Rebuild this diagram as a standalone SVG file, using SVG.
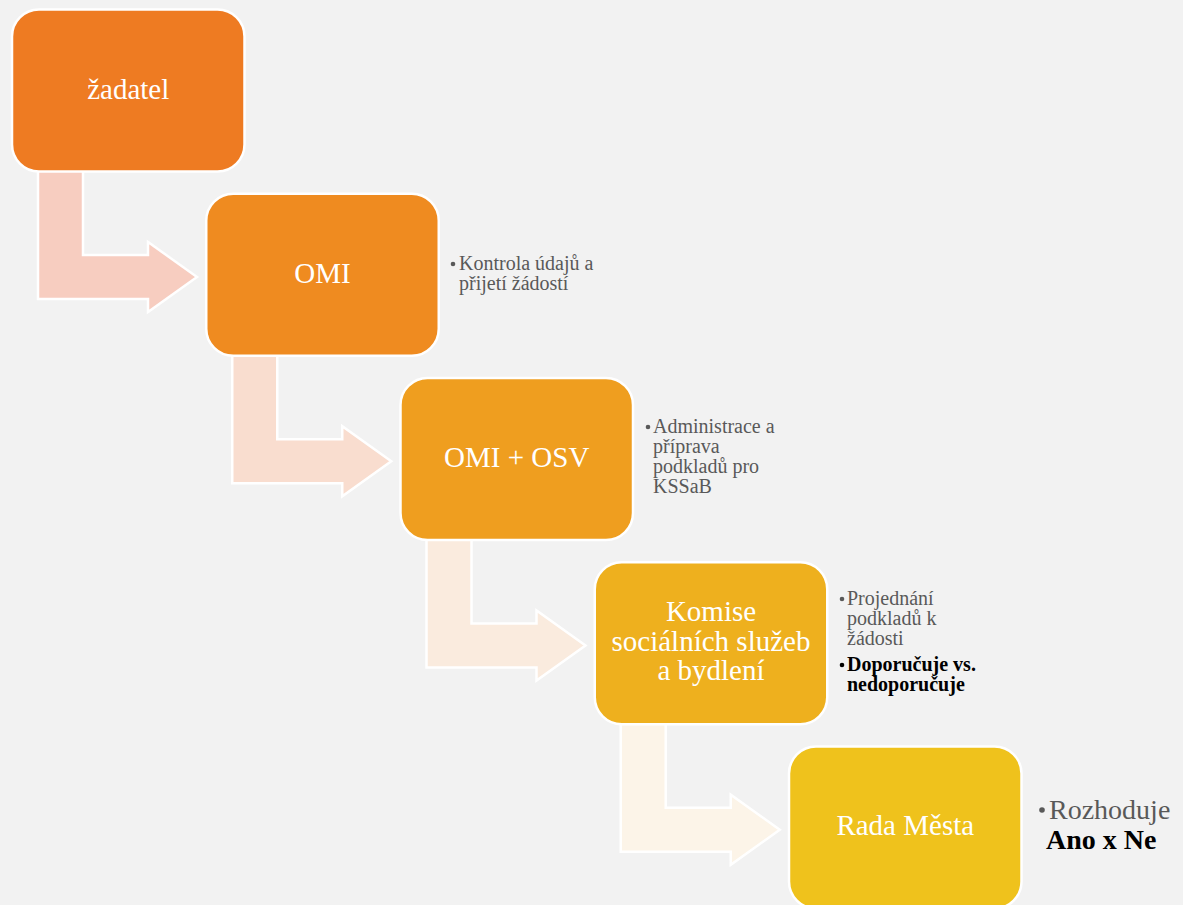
<svg xmlns="http://www.w3.org/2000/svg" width="1183" height="905" viewBox="0 0 1183 905">
<style>
.bg{fill:#F2F2F2}
.box{stroke:#FFFFFF;stroke-width:2.5}
.arr{stroke:#FFFFFF;stroke-width:2.5;stroke-linejoin:miter}
.lbl{font-family:"Liberation Serif","DejaVu Serif",serif;font-size:29px;fill:#FFFFFF;text-anchor:middle}
.side{font-family:"Liberation Serif","DejaVu Serif",serif;font-size:20px;fill:#595959}
.sideb{font-family:"Liberation Serif","DejaVu Serif",serif;font-size:20px;fill:#000000;font-weight:bold}
.big{font-family:"Liberation Serif","DejaVu Serif",serif;font-size:28px;fill:#595959}
.bigb{font-family:"Liberation Serif","DejaVu Serif",serif;font-size:28px;fill:#000000;font-weight:bold}
.dot{fill:#595959}
.dotb{fill:#000000}
</style>
<defs>
<path id="bent" d="M 38 170 L 83 170 L 83 255 L 148 255 L 148 242 L 197 277 L 148 312 L 148 299 L 38 299 Z"/>
</defs>
<rect class="bg" x="0" y="0" width="1183" height="905"/>
<g id="connectors">
<use href="#bent" class="arr" fill="#F7CDC0"/>
<use href="#bent" class="arr" fill="#F9DDCF" transform="translate(194.25,184.25)"/>
<use href="#bent" class="arr" fill="#FAEBDE" transform="translate(388.5,368.5)"/>
<use href="#bent" class="arr" fill="#FCF4E8" transform="translate(582.75,552.75)"/>
</g>
<g id="node-zadatel">
<rect class="box" x="12" y="9.5" width="232.5" height="162" rx="27" fill="#EE7B22"/>
<text class="lbl" x="128.25" y="99">žadatel</text>
</g>
<g id="node-omi">
<rect class="box" x="206.25" y="193.75" width="232.5" height="162" rx="27" fill="#EF8B20"/>
<text class="lbl" x="322.5" y="283">OMI</text>
<g id="note-omi">
<circle class="dot" cx="453" cy="264" r="2.3"/>
<text class="side" x="459" y="270">Kontrola údajů a</text>
<text class="side" x="459" y="290">přijetí žádostí</text>
</g>
</g>
<g id="node-omi-osv">
<rect class="box" x="400.5" y="378" width="232.5" height="162" rx="27" fill="#EF9E1F"/>
<text class="lbl" x="516.75" y="467">OMI + OSV</text>
<g id="note-omi-osv">
<circle class="dot" cx="648" cy="427" r="2.3"/>
<text class="side" x="653" y="433">Administrace a</text>
<text class="side" x="653" y="453">příprava</text>
<text class="side" x="653" y="473">podkladů pro</text>
<text class="side" x="653" y="493">KSSaB</text>
</g>
</g>
<g id="node-komise">
<rect class="box" x="594.75" y="562.25" width="232.5" height="162" rx="27" fill="#EEB01E"/>
<text class="lbl" x="711" y="621">Komise</text>
<text class="lbl" x="711" y="651">sociálních služeb</text>
<text class="lbl" x="711" y="680">a bydlení</text>
<g id="note-komise">
<circle class="dot" cx="842" cy="599" r="2.3"/>
<text class="side" x="847" y="605">Projednání</text>
<text class="side" x="847" y="625">podkladů k</text>
<text class="side" x="847" y="645">žádosti</text>
<circle class="dotb" cx="842" cy="665" r="2.3"/>
<text class="sideb" x="847" y="671">Doporučuje vs.</text>
<text class="sideb" x="847" y="691">nedoporučuje</text>
</g>
</g>
<g id="node-rada">
<rect class="box" x="789" y="746.5" width="232.5" height="162" rx="27" fill="#EFC21C"/>
<text class="lbl" x="905.25" y="835">Rada Města</text>
<g id="note-rada">
<circle class="dot" cx="1042" cy="810" r="2.8"/>
<text class="big" x="1049" y="819">Rozhoduje</text>
<text class="bigb" x="1046" y="849">Ano x Ne</text>
</g>
</g>
</svg>
